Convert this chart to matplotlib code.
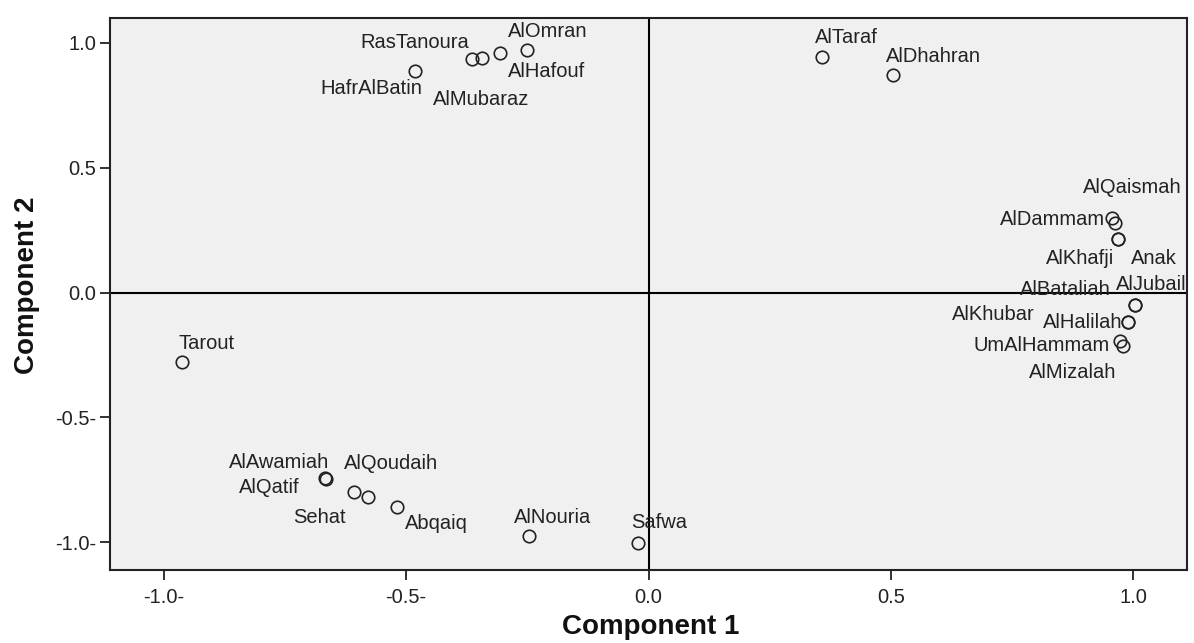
import matplotlib
matplotlib.use("Agg")
import matplotlib.pyplot as plt
from matplotlib import font_manager

names = ["AlQaismah", "AlDammam", "AlKhafji", "Anak", "AlJubail", "AlBataliah",
         "AlKhubar", "AlHalilah", "UmAlHammam", "AlMizalah",
         "HafrAlBatin", "RasTanoura", "AlMubaraz", "AlHafouf", "AlOmran",
         "AlTaraf", "AlDhahran", "Tarout",
         "AlAwamiah", "AlQatif", "AlQoudaih", "Sehat", "Abqaiq", "AlNouria", "Safwa"]
comp1 = [0.956, 0.962, 0.969, 0.969, 1.004, 1.004,
         0.990, 0.990, 0.972, 0.978,
         -0.482, -0.364, -0.344, -0.307, -0.251,
         0.358, 0.505, -0.963,
         -0.666, -0.668, -0.608, -0.579, -0.519, -0.247, -0.022]
comp2 = [0.300, 0.279, 0.214, 0.214, -0.050, -0.050,
         -0.118, -0.118, -0.196, -0.214,
         0.888, 0.936, 0.940, 0.960, 0.972,
         0.944, 0.872, -0.279,
         -0.747, -0.745, -0.800, -0.820, -0.860, -0.976, -1.004]

# label placement offsets in pixels (layout only)
label_offsets = {
    "AlQaismah": (20, 30), "AlDammam": (-62, 3), "AlKhafji": (-38, -19), "Anak": (36, -19),
    "AlJubail": (16, 20), "AlBataliah": (-70, 15), "AlKhubar": (-135, 7), "AlHalilah": (-46, -1),
    "UmAlHammam": (-78, -4), "AlMizalah": (-50, -27),
    "HafrAlBatin": (-44, -18), "RasTanoura": (-57, 16), "AlMubaraz": (-1, -42),
    "AlHafouf": (47, -19), "AlOmran": (21, 18), "AlTaraf": (24, 19), "AlDhahran": (40, 18),
    "Tarout": (25, 19), "AlAwamiah": (-47, 16), "AlQatif": (-55, -9), "AlQoudaih": (37, 29),
    "Sehat": (-48, -20), "Abqaiq": (39, -16), "AlNouria": (24, 19), "Safwa": (21, 21),
}

xticks = [-1.0, -0.5, 0.0, 0.5, 1.0]
xticklabels = ["-1.0-", "-0.5-", "0.0", "0.5", "1.0"]
yticks = [1.0, 0.5, 0.0, -0.5, -1.0]
yticklabels = ["1.0", "0.5", "0.0", "-0.5-", "-1.0-"]

avail = {f.name for f in font_manager.fontManager.ttflist}
base_font = "Liberation Sans" if "Liberation Sans" in avail else "DejaVu Sans"
title_font = "Liberation Sans Narrow" if "Liberation Sans Narrow" in avail else base_font
plt.rcParams["font.family"] = [base_font, "DejaVu Sans"]

fig = plt.figure(figsize=(11.94, 6.43), dpi=100)
fig.patch.set_facecolor("white")
ax = fig.add_axes([110/1194, 1 - 570/643, (1187-110)/1194, (570-18)/643])
ax.set_facecolor("#f0f0f0")

ax.axhline(0, color="black", lw=1.5, zorder=1)
ax.axvline(0, color="black", lw=1.5, zorder=1)

ax.plot(comp1, comp2, linestyle="none", marker="o", markersize=9,
        markerfacecolor="none", markeredgecolor="#222222", markeredgewidth=1.2, zorder=3)

for n, x, y in zip(names, comp1, comp2):
    dx, dy = label_offsets[n]
    ax.annotate(n, (x, y), xytext=(dx, dy), textcoords="offset pixels",
                ha="center", va="center", fontsize=14.5, color="#222222", zorder=4)

ax.set_xlim(-1.111, 1.111)
ax.set_ylim(-1.112, 1.100)
ax.set_xticks(xticks)
ax.set_xticklabels(xticklabels)
ax.set_yticks(yticks)
ax.set_yticklabels(yticklabels)
ax.tick_params(axis="both", direction="out", length=7, width=1.3, labelsize=14.5,
               colors="#222222", pad=3)
ax.tick_params(axis="x", pad=6)
for s in ax.spines.values():
    s.set_linewidth(1.5)
    s.set_color("#222222")

fig.text(651/1194, 1 - 627/643, "Component 1", ha="center", va="center",
         fontsize=20, fontweight="bold", family=[title_font, "DejaVu Sans"], color="#111111")
fig.text(27/1194, 1 - 285/643, "Component 2", ha="center", va="center", rotation=90,
         fontsize=20, fontweight="bold", family=[title_font, "DejaVu Sans"], color="#111111")

fig.savefig("out.png", dpi=100)
